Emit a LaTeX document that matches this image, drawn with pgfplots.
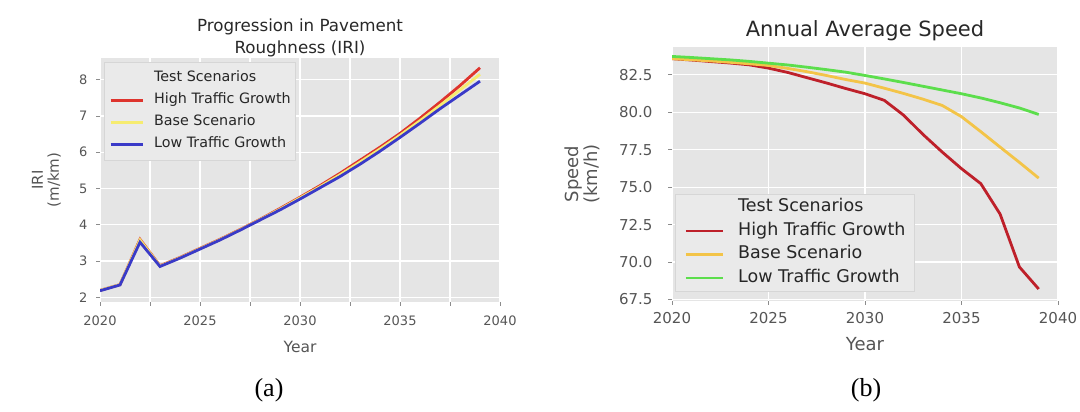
\documentclass[border=0pt]{standalone}
\usepackage{fontspec}
\setmainfont{DejaVu Sans}
\newfontfamily\capfont{Liberation Serif}
\usepackage{pgfplots}
\usepackage{pgfplotstable}
\pgfplotsset{compat=1.18}

\definecolor{panelbg}{RGB}{229,229,229}
\definecolor{ticktext}{RGB}{85,85,85}
\definecolor{tickmark}{RGB}{140,140,140}
\definecolor{titletext}{RGB}{40,40,40}
\definecolor{legbg}{RGB}{234,234,234}
\definecolor{legedge}{RGB}{214,214,214}
\definecolor{iriHigh}{RGB}{222,52,45}
\definecolor{iriBase}{RGB}{246,236,112}
\definecolor{iriLow}{RGB}{58,58,200}
\definecolor{spdHigh}{RGB}{190,32,42}
\definecolor{spdBase}{RGB}{243,196,72}
\definecolor{spdLow}{RGB}{92,222,76}

% International Roughness Index (m/km) per scenario
\pgfplotstableread{
year high base low
2020 2.19 2.19 2.18
2021 2.35 2.35 2.34
2022 3.60 3.58 3.52
2023 2.87 2.86 2.85
2024 3.10 3.09 3.08
2025 3.35 3.34 3.33
2026 3.60 3.59 3.58
2027 3.87 3.86 3.85
2028 4.15 4.14 4.13
2029 4.45 4.43 4.41
2030 4.76 4.74 4.71
2031 5.08 5.05 5.02
2032 5.42 5.38 5.33
2033 5.78 5.73 5.67
2034 6.14 6.09 6.03
2035 6.52 6.47 6.41
2036 6.94 6.87 6.80
2037 7.38 7.29 7.20
2038 7.84 7.72 7.58
2039 8.33 8.15 7.96
}\iridata

% Annual average speed (km/h) per scenario
\pgfplotstableread{
year high base low
2020 83.57 83.57 83.72
2021 83.48 83.50 83.65
2022 83.38 83.42 83.57
2023 83.28 83.33 83.49
2024 83.16 83.23 83.39
2025 82.94 83.12 83.27
2026 82.65 82.92 83.15
2027 82.30 82.70 83.00
2028 81.95 82.45 82.84
2029 81.58 82.18 82.67
2030 81.23 81.94 82.45
2031 80.79 81.60 82.22
2032 79.80 81.25 81.98
2033 78.52 80.87 81.73
2034 77.34 80.45 81.48
2035 76.23 79.70 81.23
2036 75.23 78.70 80.95
2037 73.20 77.67 80.63
2038 69.67 76.65 80.28
2039 68.20 75.60 79.85
}\speeddata

\pgfplotsset{
  ggstyle/.style={
    scale only axis,
    axis background/.style={fill=panelbg},
    axis line style={draw=none},
    grid=major,
    grid style={white, line width=1.1pt},
    tick align=outside,
    tick pos=left,
    major tick length=4pt,
    tick style={color=tickmark, line width=0.8pt},
    xmin=2020, xmax=2040,
    ticklabel style={text=ticktext},
    legend cell align=left,
    every axis x label/.style={anchor=center, text=ticktext},
    every axis y label/.style={anchor=center, rotate=90, align=center, text=ticktext},
  }
}

\begin{document}
\begin{tikzpicture}
\path[use as bounding box] (0,0) rectangle (1080pt,412pt);

% (a) pavement roughness
\begin{axis}[ggstyle,
  at={(100pt,110pt)}, anchor=south west,
  width=400pt, height=244pt,
  ymin=1.87, ymax=8.6,
  xtick={2020,2022.5,2025,2027.5,2030,2032.5,2035,2037.5,2040},
  xticklabels={2020,,2025,,2030,,2035,,2040},
  ytick={2,3,4,5,6,7,8},
  yticklabels={2,3,4,5,6,7,8},
  ticklabel style={font=\fontsize{13}{15}\selectfont},
  xticklabel style={yshift=-6pt},
  yticklabel style={xshift=-5pt},
  title={Progression in Pavement\\Roughness (IRI)},
  title style={font=\fontsize{16.7}{21.5}\selectfont, align=center, text=titletext,
    at={(axis description cs:0.5,1)}, anchor=south, inner sep=0pt, yshift=-5pt},
  xlabel={Year},
  x label style={at={(axis description cs:0.5,-0.184)}, font=\fontsize{15.5}{18}\selectfont},
  ylabel={IRI\\(m/km)},
  y label style={at={(axis description cs:-0.134,0.5)}, font=\fontsize{15}{16}\selectfont},
  legend style={at={(axis description cs:0.01,0.984)}, anchor=north west,
    fill=legbg, draw=legedge, line width=0.6pt,
    font=\fontsize{14.3}{16}\selectfont, text=black!85,
    inner xsep=5pt, inner ysep=8.5pt, row sep=7pt, column sep=10pt,
    nodes={inner sep=0pt, text height=11pt, text depth=4pt}},
  legend image code/.code={\draw[#1] (0pt,0pt) -- (32pt,0pt);},
]
\addlegendimage{empty legend}
\addlegendentry{Test Scenarios}
\addplot[iriHigh, line width=2.8pt] table[x=year, y=high] {\iridata};
\addlegendentry{High Traffic Growth}
\addplot[iriBase, line width=2.8pt] table[x=year, y=base] {\iridata};
\addlegendentry{Base Scenario}
\addplot[iriLow, line width=2.8pt] table[x=year, y=low] {\iridata};
\addlegendentry{Low Traffic Growth}
\end{axis}

% (b) annual average speed
\begin{axis}[ggstyle,
  at={(672pt,111pt)}, anchor=south west,
  width=386pt, height=254pt,
  ymin=67.4, ymax=84.35,
  xtick={2020,2025,2030,2035,2040},
  xticklabels={2020,2025,2030,2035,2040},
  ytick={67.5,70,72.5,75,77.5,80,82.5},
  yticklabels={67.5,70.0,72.5,75.0,77.5,80.0,82.5},
  ticklabel style={font=\fontsize{15}{17}\selectfont},
  xticklabel style={yshift=-4pt},
  yticklabel style={xshift=-12pt},
  title={Annual Average Speed},
  title style={font=\fontsize{21}{25}\selectfont, text=titletext,
    at={(axis description cs:0.5,1)}, anchor=base, inner sep=0pt, yshift=4pt},
  xlabel={Year},
  x label style={at={(axis description cs:0.5,-0.169)}, font=\fontsize{18}{21}\selectfont},
  ylabel={Speed\\(km/h)},
  y label style={at={(axis description cs:-0.233,0.5)}, font=\fontsize{18}{19}\selectfont},
  legend style={at={(axis description cs:0.008,0.037)}, anchor=south west,
    fill=legbg, draw=legedge, line width=0.6pt,
    font=\fontsize{17.5}{20}\selectfont, text=black!85,
    inner xsep=9pt, inner ysep=4.5pt, row sep=6pt, column sep=14pt,
    nodes={inner sep=0pt, text height=13pt, text depth=4.5pt}},
  legend image code/.code={\draw[#1] (0pt,0pt) -- (37pt,0pt);},
]
\addlegendimage{empty legend}
\addlegendentry{Test Scenarios}
\addplot[spdHigh, line width=2.8pt] table[x=year, y=high] {\speeddata};
\addlegendentry{High Traffic Growth}
\addplot[spdBase, line width=2.8pt] table[x=year, y=base] {\speeddata};
\addlegendentry{Base Scenario}
\addplot[spdLow, line width=2.8pt] table[x=year, y=low] {\speeddata};
\addlegendentry{Low Traffic Growth}
\end{axis}

% panel captions
\node[font=\capfont\fontsize{26}{30}\selectfont] at (269pt,22pt) {(a)};
\node[font=\capfont\fontsize{26}{30}\selectfont] at (866pt,22pt) {(b)};
\end{tikzpicture}
\end{document}
